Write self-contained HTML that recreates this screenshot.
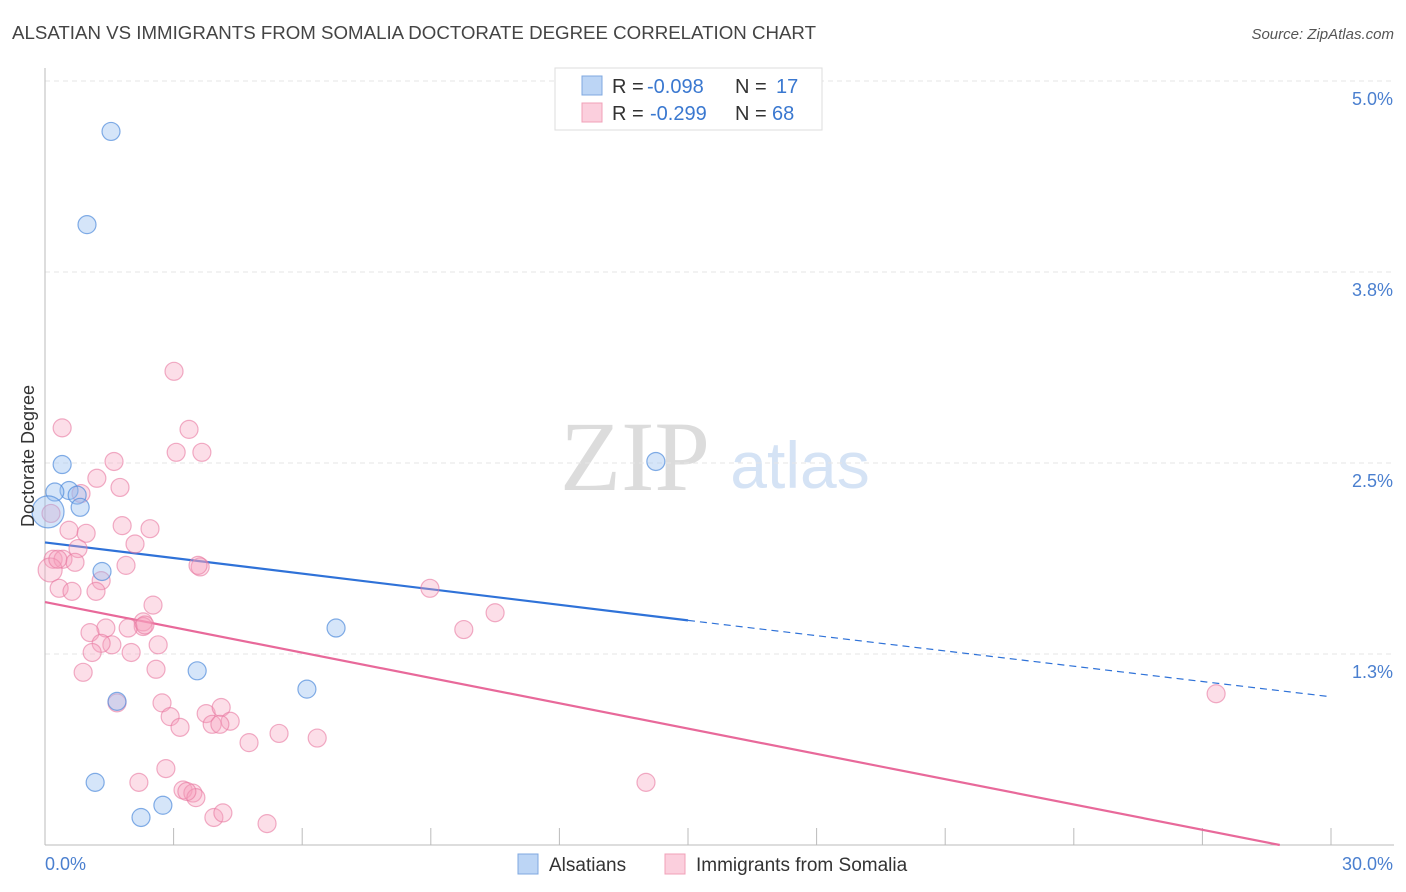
<!DOCTYPE html>
<html><head><meta charset="utf-8"><style>
body{margin:0;background:#fff;font-family:"Liberation Sans",sans-serif}
svg{display:block}
</style></head><body>
<svg id="chart" width="1406" height="892" viewBox="0 0 1406 892">
<text x="12" y="39" font-size="18" fill="#444" textLength="804" lengthAdjust="spacingAndGlyphs">ALSATIAN VS IMMIGRANTS FROM SOMALIA DOCTORATE DEGREE CORRELATION CHART</text>
<text x="1394" y="39" font-size="15" fill="#555" text-anchor="end" font-style="italic">Source: ZipAtlas.com</text>
<g>
<text x="635" y="490" font-size="100" fill="#dcdcdc" text-anchor="middle" font-family="Liberation Serif,serif">ZIP</text>
<text x="800" y="488" font-size="66" fill="#d5e3f5" text-anchor="middle">atlas</text>
</g>
<g id="grid"></g>
<g id="axes"></g>
<g id="lines"></g>
<g id="points"></g>
<text transform="translate(34,456) rotate(-90)" font-size="18" fill="#333" text-anchor="middle">Doctorate Degree</text>
<g>
<rect x="555" y="68" width="267" height="62" fill="#fff" stroke="#ddd"/>
<rect x="582" y="76" width="20" height="19" fill="#bcd5f5" stroke="#7fa8e0"/>
<rect x="582" y="103" width="20" height="19" fill="#fbcfdd" stroke="#f0a0b8"/>
<text x="612" y="93" font-size="20" fill="#333">R =</text>
<text x="647" y="93" font-size="20" fill="#3a78d0">-0.098</text>
<text x="735" y="93" font-size="20" fill="#333">N =</text>
<text x="776" y="93" font-size="20" fill="#3a78d0">17</text>
<text x="612" y="120" font-size="20" fill="#333">R =</text>
<text x="650" y="120" font-size="20" fill="#3a78d0">-0.299</text>
<text x="735" y="120" font-size="20" fill="#333">N =</text>
<text x="772" y="120" font-size="20" fill="#3a78d0">68</text>
</g>
<g>
<rect x="518" y="854" width="20" height="20" fill="#bcd5f5" stroke="#7fa8e0"/>
<text x="549" y="871" font-size="19" fill="#333">Alsatians</text>
<rect x="665" y="854" width="20" height="20" fill="#fbcfdd" stroke="#f0a0b8"/>
<text x="696" y="871" font-size="19" fill="#333">Immigrants from Somalia</text>
</g>
</svg>
<script>
const xTicks=[0,3,6,9,12,15,18,21,24,27,30];
const yGrid=[1.25,2.5,3.75,5.0];
const yLabels=["1.3%","2.5%","3.8%","5.0%"];
const blueX=[1.54,0.98,0.40,0.56,0.23,0.75,0.82,0.07,1.33,14.25,6.79,3.55,6.11,1.68,1.17,2.75,2.24];
const blueY=[4.67,4.06,2.49,2.32,2.31,2.29,2.21,2.18,1.79,2.51,1.42,1.14,1.02,0.94,0.41,0.26,0.18];
const blueR=[9,9,9,9,9,9,9,16,9,9,9,9,9,9,9,9,9];
const pinkX=[3.01,0.40,3.36,3.06,3.66,1.61,1.21,1.75,0.84,0.14,0.56,0.96,1.80,2.45,2.10,0.77,0.19,0.42,0.70,0.12,1.89,3.62,3.57,1.31,0.33,0.63,1.19,2.52,2.29,2.29,1.94,1.42,1.05,2.64,1.56,1.31,1.10,2.01,0.89,2.59,1.68,2.73,2.92,3.15,3.76,4.11,4.32,3.90,4.08,4.76,5.46,6.35,2.82,2.19,3.22,3.45,3.52,3.94,4.15,5.18,8.98,9.77,10.50,27.32,14.02,3.31,2.33,0.30];
const pinkY=[3.10,2.73,2.72,2.57,2.57,2.51,2.40,2.34,2.30,2.17,2.06,2.04,2.09,2.07,1.97,1.94,1.87,1.87,1.85,1.80,1.83,1.82,1.83,1.73,1.68,1.66,1.66,1.57,1.46,1.43,1.42,1.42,1.39,1.31,1.31,1.32,1.26,1.26,1.13,1.15,0.93,0.93,0.84,0.77,0.86,0.90,0.81,0.79,0.79,0.67,0.73,0.70,0.50,0.41,0.36,0.34,0.31,0.18,0.21,0.14,1.68,1.41,1.52,0.99,0.41,0.35,1.44,1.87];
const blueTrend=[1.98,1.47,0.97];
const pinkTrend=[1.59,-0.0552];
const NS="http://www.w3.org/2000/svg";
const sx=v=>45+v/30*1286;
const sy=v=>845-v*152.8;
function mk(tag,attrs,parent){const e=document.createElementNS(NS,tag);for(const k in attrs)e.setAttribute(k,attrs[k]);parent.appendChild(e);return e;}
const grid=document.getElementById('grid'),axes=document.getElementById('axes'),lines=document.getElementById('lines'),pts=document.getElementById('points');
yGrid.forEach((v,i)=>{
 const l=mk('line',{x1:45,x2:1394,y1:sy(v),y2:sy(v),stroke:'#e6e6e6','stroke-dasharray':'5,4'},grid);
 
 
 const t=mk('text',{x:1393,y:sy(v)+24,'font-size':18,fill:'#4a7fcf','text-anchor':'end'},axes);
 t.textContent=yLabels[i];
 
 
});
mk('line',{x1:45,x2:45,y1:68,y2:845,stroke:'#bbb'},axes);
mk('line',{x1:45,x2:1394,y1:845,y2:845,stroke:'#bbb'},axes);
xTicks.forEach(v=>{
 const l=mk('line',{x1:sx(v),x2:sx(v),y1:828,y2:845,stroke:'#bbb'},axes);
 
 
});
const x0=mk('text',{x:45,y:870,'font-size':18,fill:'#4a7fcf'},axes);x0.textContent=xTicks[0].toFixed(1)+'%';


const x1=mk('text',{x:1393,y:870,'font-size':18,fill:'#4a7fcf','text-anchor':'end'},axes);x1.textContent=xTicks[xTicks.length-1].toFixed(1)+'%';


pinkX.forEach((x,i)=>{
 const c=mk('circle',{cx:sx(x),cy:sy(pinkY[i]),r:i==19?12:9,fill:'rgba(246,160,188,0.35)',stroke:'rgba(232,120,160,0.6)','stroke-width':1.2},pts);
 
 
});
blueX.forEach((x,i)=>{
 const c=mk('circle',{cx:sx(x),cy:sy(blueY[i]),r:blueR[i],fill:'rgba(150,190,240,0.4)',stroke:'rgba(80,140,220,0.7)','stroke-width':1.2},pts);
 
 
});
const b1=mk('line',{x1:sx(0),y1:sy(blueTrend[0]),x2:sx(15),y2:sy(blueTrend[1]),stroke:'#2f72d8','stroke-width':2.2},lines);


const b2=mk('line',{x1:sx(15),y1:sy(blueTrend[1]),x2:sx(30),y2:sy(blueTrend[2]),stroke:'#2f72d8','stroke-width':1.2,'stroke-dasharray':'7,5'},lines);


const pEnd=Math.min(30,-pinkTrend[0]/pinkTrend[1]);
const p1=mk('line',{x1:sx(0),y1:sy(pinkTrend[0]),x2:sx(pEnd),y2:sy(pinkTrend[0]+pinkTrend[1]*pEnd),stroke:'#e8699a','stroke-width':2.2},lines);


</script>
</body></html>
